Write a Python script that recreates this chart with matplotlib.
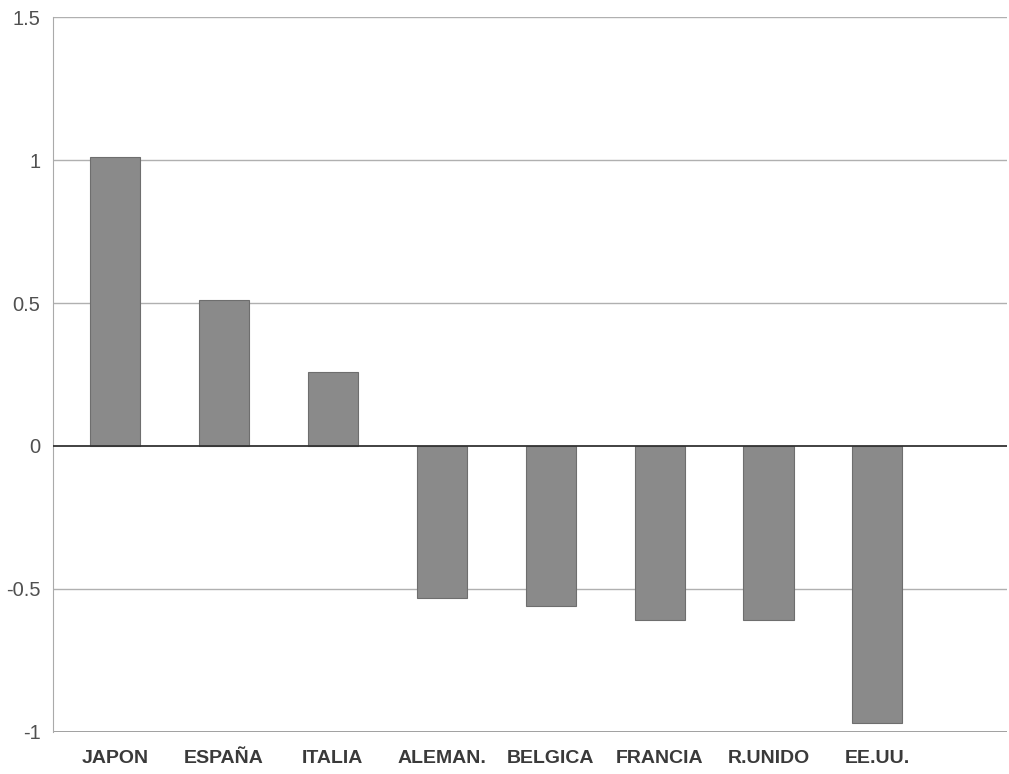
import matplotlib
matplotlib.use("Agg")
import matplotlib.pyplot as plt

categories = ["JAPON", "ESPAÑA", "ITALIA", "ALEMAN.", "BELGICA", "FRANCIA", "R.UNIDO", "EE.UU."]
values = [1.01, 0.51, 0.26, -0.53, -0.56, -0.61, -0.61, -0.97]
yticks = [-1, -0.5, 0, 0.5, 1, 1.5]
ytick_labels = ["-1", "-0.5", "0", "0.5", "1", "1.5"]

fig = plt.figure(figsize=(10.09, 7.74), dpi=100)
ax = fig.add_axes([0.0525, 0.0543, 0.9455, 0.9237])

x = list(range(len(categories)))
ax.bar(x, values, width=0.46, color="#8a8a8a", edgecolor="#6e6e6e", linewidth=0.8, zorder=3)

ax.set_ylim(-1, 1.5)
ax.set_xlim(-0.57, 8.19)
ax.set_yticks(yticks)
ax.set_yticklabels(ytick_labels, fontfamily="Liberation Sans", fontsize=14.5, color="#505050")
ax.set_xticks(x)
ax.set_xticklabels(categories, fontfamily="Liberation Sans", fontweight="bold", fontsize=14, color="#3a3a3a")

for y in yticks:
    if y == 0:
        ax.axhline(y, color="#333333", linewidth=1.3, zorder=4)
    elif y == -1:
        ax.axhline(y, color="#999999", linewidth=1.3, zorder=2)
    else:
        ax.axhline(y, color="#b0b0b0", linewidth=1.0, zorder=2)

for s in ["top", "right", "bottom"]:
    ax.spines[s].set_visible(False)
ax.spines["left"].set_color("#aaaaaa")
ax.tick_params(axis="both", length=0)
ax.tick_params(axis="y", pad=9)
ax.tick_params(axis="x", pad=13)

fig.savefig("out.png", dpi=100)
